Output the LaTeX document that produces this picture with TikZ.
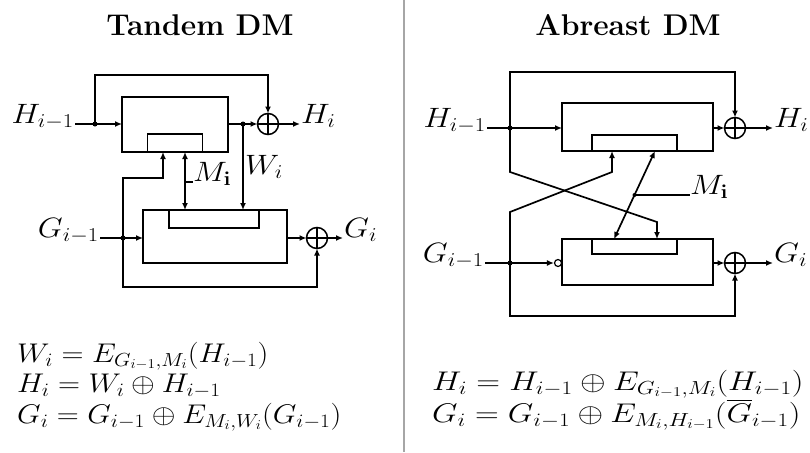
\RequirePackage{fix-cm}
\documentclass[tikz,border=0pt]{standalone}
\usepackage{amsmath}
\usetikzlibrary{arrows.meta,calc}
\newcommand{\lblwide}[1]{\scalebox{1.15}[1]{#1}}
\newcommand{\eqwide}[1]{\scalebox{1.13}[1]{#1}}
\newcommand{\eqwider}[1]{\scalebox{1.22}[1]{#1}}

\begin{document}
\begin{tikzpicture}[x=1pt,y=-1pt,
  wire/.style={line width=1.7pt},
  to/.style={wire,-{Latex[length=7pt,width=6pt]}},
  both/.style={wire,{Latex[length=7pt,width=6pt]}-{Latex[length=7pt,width=6pt]}},
  blk/.style={draw,line width=1.7pt,inner sep=0pt,outer sep=0pt},
  xor/.style={draw,circle,line width=1.5pt,minimum size=21pt,inner sep=0pt,outer sep=0pt,
    path picture={\draw[line width=1.2pt] (path picture bounding box.north) -- (path picture bounding box.south)
      (path picture bounding box.west) -- (path picture bounding box.east);}},
  lbl/.style={font=\fontsize{28}{32}\selectfont,inner sep=1pt,yshift=3pt},
  eq/.style={font=\fontsize{27}{30}\selectfont,inner sep=0pt,anchor=base west},
  ttl/.style={font=\fontsize{30}{34}\selectfont\bfseries,anchor=base}]
 \useasboundingbox (0,0) rectangle (810,452);

 % Tandem DM
 \node[ttl] (ttlA) at (200,36) {Tandem DM};
 \node[blk,minimum width=106pt,minimum height=55pt] (encH) at (175,124.5) {};
 \node[blk,minimum width=55pt,minimum height=18pt,anchor=south] (keyH) at (encH.south) {};
 \node[blk,minimum width=144pt,minimum height=53pt] (encG) at (215,236.5) {};
 \node[blk,minimum width=90pt,minimum height=18pt,anchor=north] (keyG) at (214,210) {};
 \node[xor] (xH) at (268,124) {};
 \node[xor] (xG) at (317,238) {};

 \coordinate (hin) at (75,124);
 \coordinate (hsplit) at (95,124);
 \coordinate (topH) at (95,75);
 \coordinate (wsplit) at (243,124);
 \coordinate (hout) at (300,124);
 \coordinate (gin) at (100,238);
 \coordinate (gsplit) at (123,238);
 \coordinate (gup) at (123,178);
 \coordinate (gbot) at (123,287);
 \coordinate (kH) at (163,152);
 \coordinate (mtap) at (185,182);
 \coordinate (mtick) at (193,182);
 \coordinate (gout) at (343,238);

 \node[lbl,anchor=mid east] (hinl) at (hin) {\lblwide{$H_{i-1}$}};
 \node[lbl,anchor=mid west] (houtl) at (hout) {\lblwide{$H_i$}};
 \node[lbl,anchor=mid east] (ginl) at (gin) {\lblwide{$G_{i-1}$}};
 \node[lbl,anchor=mid west] (goutl) at (gout) {\lblwide{$G_i$}};
 \node[lbl,anchor=north west,yshift=-3pt] (wl) at (244,154) {\lblwide{$W_i$}};
 \node[lbl,anchor=mid west,inner sep=0pt] (ml) at (mtick) {\lblwide{$M_{\mathbf{i}}$}};

 \draw[wire] (hin) -- (hsplit);
 \draw[to] (hsplit) -- (encH.west |- hsplit);
 \draw[to] (hsplit) -- (topH) -| (xH.north);
 \draw[wire] (encH.east |- wsplit) -- (wsplit);
 \draw[to] (wsplit) -- (xH.west);
 \draw[to] (xH.east) -- (hout);
 \draw[to] (wsplit) -- (wsplit |- encG.north);
 \draw[both] (keyH.south -| mtap) -- (encG.north -| mtap);
 \draw[wire] (mtap) -- (mtick);
 \draw[wire] (gin) -- (gsplit);
 \draw[to] (gsplit) -- (encG.west |- gsplit);
 \draw[to] (gsplit) -- (gup) -| (kH);
 \draw[to] (gsplit) -- (gbot) -| (xG.south);
 \draw[to] (encG.east |- xG) -- (xG.west);
 \draw[to] (xG.east) -- (gout);
 \fill (hsplit) circle[radius=2.5pt] (wsplit) circle[radius=2.5pt] (gsplit) circle[radius=2.5pt];

 \node[eq] (eqW) at (17,362) {\eqwide{$W_i = E_{G_{i-1},M_i}(H_{i-1})$}};
 \node[eq] (eqH) at (17,392) {\eqwide{$H_i = W_i \oplus H_{i-1}$}};
 \node[eq] (eqG) at (17,423) {\eqwide{$G_i = G_{i-1} \oplus E_{M_i,W_i}(G_{i-1})$}};

 % separator
 \coordinate (sepT) at (404,0);
 \coordinate (sepB) at (404,452);
 \draw[gray!70,line width=2pt] (sepT) -- (sepB);

 % Abreast DM
 \node[ttl] (ttlB) at (628,36) {Abreast DM};
 \node[blk,minimum width=151pt,minimum height=48pt] (encH2) at (637.5,127) {};
 \node[blk,minimum width=85pt,minimum height=16pt,anchor=south] (keyH2) at (634.5,151) {};
 \node[blk,minimum width=151pt,minimum height=46pt] (encG2) at (637.5,262) {};
 \node[blk,minimum width=85pt,minimum height=15pt,anchor=north] (keyG2) at (634.5,239) {};
 \node[xor] (xH2) at (735,128) {};
 \node[xor] (xG2) at (735,263) {};
 \node[draw,circle,line width=1.2pt,minimum size=7pt,inner sep=0pt,fill=white] (inv) at (558,263) {};

 \coordinate (hin2) at (487,128);
 \coordinate (hsplit2) at (510,128);
 \coordinate (topH2) at (510,72);
 \coordinate (hcr1) at (510,172);
 \coordinate (hcr2) at (657,222);
 \coordinate (kG2) at (657,239);
 \coordinate (hout2) at (773,128);
 \coordinate (gin2) at (485,263);
 \coordinate (gsplit2) at (510,263);
 \coordinate (kH2) at (612,151);
 \coordinate (gcr1) at (612,172);
 \coordinate (gcr2) at (510,212);
 \coordinate (gbot2) at (510,316);
 \coordinate (gout2) at (773,263);
 \coordinate (m1) at (655,151);
 \coordinate (m2) at (614,239);
 \coordinate (mtap2) at ($(m1)!0.5!(m2)$);
 \coordinate (mend2) at (690,195);

 \node[lbl,anchor=mid east] (hinl2) at (hin2) {\lblwide{$H_{i-1}$}};
 \node[lbl,anchor=mid west] (houtl2) at (hout2) {\lblwide{$H_i$}};
 \node[lbl,anchor=mid east] (ginl2) at (gin2) {\lblwide{$G_{i-1}$}};
 \node[lbl,anchor=mid west] (goutl2) at (gout2) {\lblwide{$G_i$}};
 \node[lbl,anchor=mid west,inner sep=0pt] (ml2) at (mend2) {\lblwide{$M_{\mathbf{i}}$}};

 \draw[wire] (hin2) -- (hsplit2);
 \draw[to] (hsplit2) -- (encH2.west |- hsplit2);
 \draw[to] (hsplit2) -- (topH2) -| (xH2.north);
 \draw[to] (hsplit2) -- (hcr1) -- (hcr2) -- (kG2);
 \draw[to] (encH2.east |- xH2) -- (xH2.west);
 \draw[to] (xH2.east) -- (hout2);
 \draw[wire] (gin2) -- (gsplit2);
 \draw[to] (gsplit2) -- (inv.west);
 \draw[to] (gsplit2) -- (gcr2) -- (gcr1) -- (kH2);
 \draw[to] (gsplit2) -- (gbot2) -| (xG2.south);
 \draw[to] (encG2.east |- xG2) -- (xG2.west);
 \draw[to] (xG2.east) -- (gout2);
 \draw[both] (m1) -- (m2);
 \draw[wire] (mtap2) -- (mtap2 -| mend2);
 \fill (hsplit2) circle[radius=2.5pt] (gsplit2) circle[radius=2.5pt] (mtap2) circle[radius=2pt];

 \node[eq] (eqH2) at (432,390) {\eqwider{$H_i = H_{i-1} \oplus E_{G_{i-1},M_i}(H_{i-1})$}};
 \node[eq] (eqG2) at (432,422) {\eqwider{$G_i = G_{i-1} \oplus E_{M_i,H_{i-1}}(\overline{G}_{i-1})$}};
\end{tikzpicture}
\end{document}
